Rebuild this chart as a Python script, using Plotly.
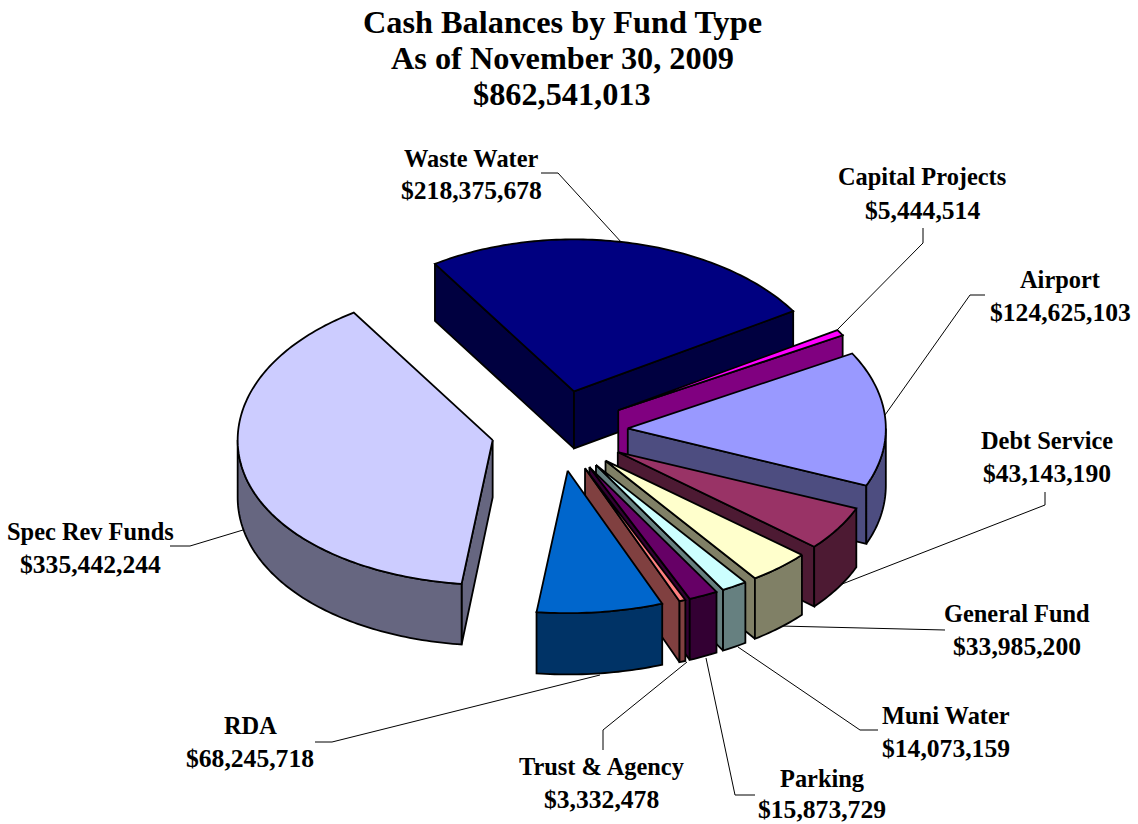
import math
import plotly.graph_objects as go

funds = ["Waste Water", "Capital Projects", "Airport", "Debt Service", "General Fund",
         "Muni Water", "Parking", "Trust &amp; Agency", "RDA", "Spec Rev Funds"]
balances = [218375678, 5444514, 124625103, 43143190, 33985200,
            14073159, 15873729, 3332478, 68245718, 335442244]
top_colors = ["#000080", "#FF00FF", "#9999FF", "#993366", "#FFFFCC",
              "#CCFFFF", "#660066", "#FF8080", "#0066CC", "#CCCCFF"]
side_colors = ["#000040", "#800080", "#4D4D80", "#4D1A33", "#808066",
               "#668080", "#330033", "#804040", "#003366", "#666680"]
title_lines = ["Cash Balances by Fund Type", "As of November 30, 2009", "$862,541,013"]

W, H = 1138, 824
CX, CY = 559, 431      # pie centre in page pixels
RX, RY = 255, 152      # pixels per unit radius along each axis
DEPTH = 57 / RY        # extrusion, in y-axis units
EXPLODE = 0.267
START_DEG = -123

# name line centre x, name line centre y, value line centre y for each label
label_pos = [(471, 158, 191), (922, 177, 210), (1060, 279, 312), (1047, 440, 473), (1017, 613, 646),
             (946, 715, 748), (822, 778, 809), (601, 766, 799), (250, 725, 758), (90, 531, 564)]
# leader polylines in page pixels
leaders = [
    [(541, 173), (558, 173), (622, 243)],
    [(837, 330), (923, 243), (923, 228)],
    [(885, 415), (970, 295), (985, 295)],
    [(837, 586), (1045, 505), (1045, 492)],
    [(780, 626), (945, 630)],
    [(738, 647), (860, 730), (878, 730)],
    [(706, 658), (735, 795), (755, 795)],
    [(687, 662), (603, 730), (603, 750)],
    [(600, 675), (332, 742), (315, 742)],
    [(243, 530), (190, 546), (170, 546)],
]


def project(x, y, z=0.0):
    """Foreshorten the near half of the pie; z=1 is the underside."""
    px = x * 1.012 if x > 0 else x
    py = y / (1 + 0.044 * y) if y > 0 else y
    drop = DEPTH * (1 + 0.06 * max(y, 0))
    return px, py + z * drop


def ring_points(a0, a1, ox, oy, z=0.0, step=1.0):
    n = max(2, int(abs(a1 - a0) / step) + 1)
    angs = [math.radians(a0 + (a1 - a0) * i / (n - 1)) for i in range(n)]
    return [project(ox + math.cos(t), oy + math.sin(t), z) for t in angs]


def poly(fig, pts, color):
    pts = pts + pts[:1]
    fig.add_trace(go.Scatter(x=[p[0] for p in pts], y=[p[1] for p in pts], mode="lines",
                             fill="toself", fillcolor=color,
                             line=dict(color="black", width=1.8, simplify=False),
                             hoverinfo="skip", showlegend=False))


total = sum(balances)
slices = []
angle = START_DEG
for value, top, side in zip(balances, top_colors, side_colors):
    sweep = 360 * value / total
    slices.append((angle, angle + sweep, top, side))
    angle += sweep

fig = go.Figure()
# Paint far wedges first so nearer ones overlap them
for a0, a1, top, side in sorted(slices, key=lambda s: math.sin(math.radians((s[0] + s[1]) / 2))):
    mid = math.radians((a0 + a1) / 2)
    ox, oy = EXPLODE * math.cos(mid), EXPLODE * math.sin(mid)
    for edge, visible in ((a0, math.cos(math.radians(a0)) < 0), (a1, math.cos(math.radians(a1)) > 0)):
        if visible:
            ex, ey = ox + math.cos(math.radians(edge)), oy + math.sin(math.radians(edge))
            poly(fig, [project(ox, oy), project(ex, ey), project(ex, ey, 1), project(ox, oy, 1)], side)
    # Outer rim only shows on the lower half of the ellipse
    lo, hi = max(a0, 0), min(a1, 180)
    if lo < hi:
        poly(fig, ring_points(lo, hi, ox, oy) + ring_points(hi, lo, ox, oy, 1), side)
    poly(fig, [project(ox, oy)] + ring_points(a0, a1, ox, oy), top)

FONT = "Liberation Serif"
for i, line in enumerate(title_lines):
    fig.add_annotation(text=f"<b>{line}</b>", xref="paper", yref="paper", x=562 / W, y=1 - (22 + 36 * i) / H,
                       showarrow=False, xanchor="center", yanchor="middle",
                       font=dict(family=FONT, size=32.3, color="black"))
for name, value, (lx, name_y, value_y) in zip(funds, balances, label_pos):
    fig.add_annotation(text=f"<b>{name}</b>", xref="paper", yref="paper", x=lx / W, y=1 - name_y / H,
                       showarrow=False, xanchor="center", yanchor="middle",
                       font=dict(family=FONT, size=24.4, color="black"))
    fig.add_annotation(text=f"<b>${value:,}</b>", xref="paper", yref="paper", x=lx / W, y=1 - value_y / H,
                       showarrow=False, xanchor="center", yanchor="middle", borderpad=0,
                       font=dict(family=FONT, size=25.6, color="black"))
for path in leaders:
    for (x0, y0), (x1, y1) in zip(path, path[1:]):
        fig.add_shape(type="line", xref="paper", yref="paper", layer="below", x0=x0 / W, x1=x1 / W,
                      y0=1 - y0 / H, y1=1 - y1 / H, line=dict(color="black", width=1))

axis = dict(visible=False, fixedrange=True)
fig.update_layout(
    width=W, height=H, margin=dict(l=0, r=0, t=0, b=0),
    paper_bgcolor="white", plot_bgcolor="rgba(0,0,0,0)", showlegend=False,
    xaxis=dict(range=[-CX / RX, (W - CX) / RX], **axis),
    yaxis=dict(range=[(H - CY) / RY, -CY / RY], **axis),
)
fig.write_html("out.html", config={"displayModeBar": False})
